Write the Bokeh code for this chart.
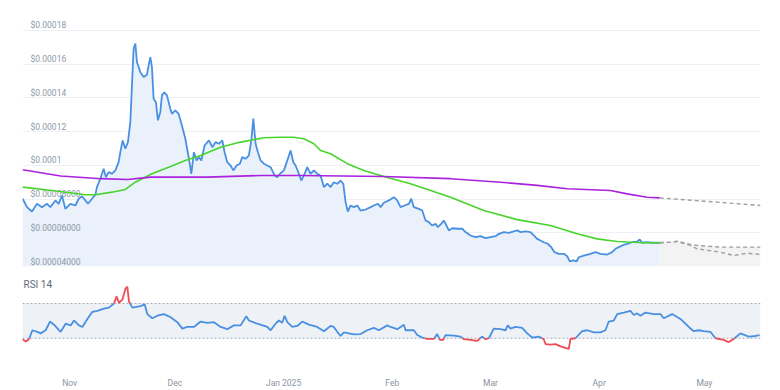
import numpy as np
import pandas as pd
from bokeh.plotting import figure
from bokeh.layouts import column
from bokeh.models import Range1d, FixedTicker, BoxAnnotation, Span
from bokeh.core.properties import value
from bokeh.embed import file_html
from bokeh.resources import INLINE

START = "2024-10-18"

# price (USD, in units of 1e-5), x = days since START
price_day = [0.6, 1.83, 3.25, 4.68, 6.10, 7.53, 8.50, 9.92, 10.86, 11.81,
             12.77, 14.2, 15.62, 16.57, 17.51, 18.48, 19.22, 20.36, 21.33, 21.78,
             22.75, 23.69, 24.35, 25.12, 26.06, 27.03, 27.97, 28.45, 29.11, 29.88,
             30.62, 31.30, 31.76, 32.24, 32.73, 33.18, 34.15, 35.09, 36.03, 36.52,
             37.00, 37.46, 37.94, 38.60, 39.17, 39.85, 40.31, 40.99, 41.74, 42.71,
             43.16, 44.13, 45.07, 46.01, 46.98, 48.01, 48.69, 49.43, 50.20, 50.86,
             51.54, 52.48, 53.71, 54.68, 55.62, 56.56, 57.53, 58.18, 58.95, 59.89,
             60.66, 61.60, 62.55, 63.23, 64.17, 65.11, 65.80, 66.37, 67.02, 67.68,
             68.45, 69.39, 70.36, 71.30, 72.44, 73.21, 73.95, 75.09, 76.06, 77.00,
             77.77, 78.42, 79.36, 80.05, 80.99, 81.76, 82.70, 83.64, 84.61, 85.55,
             86.49, 87.46, 88.40, 89.34, 90.31, 91.25, 92.02, 92.68, 93.33, 94.10,
             95.04, 96.01, 96.95, 98.38, 99.81, 100.75, 101.89, 102.65, 103.59, 105.02,
             106.44, 107.41, 108.36, 109.50, 110.72, 111.41, 112.15, 113.57, 114.54, 115.48,
             116.42, 117.39, 118.33, 118.98, 119.95, 120.69, 121.46, 122.12, 123.09, 124.51,
             125.94, 126.88, 128.31, 129.73, 131.16, 132.58, 134.01, 135.44, 136.38, 137.80,
             139.23, 140.65, 141.62, 142.56, 143.99, 145.41, 146.35, 147.32, 148.26, 149.20,
             150.34, 151.31, 152.25, 153.48, 154.90, 155.87, 156.61, 157.58, 158.52, 159.18,
             160.61, 162.52, 163.94, 165.37, 167.28, 168.70, 169.64, 170.58, 172.01, 173.15,
             174.40, 175.83, 176.57, 177.25, 178.68, 180.10, 181.53, 182.27]
price_e5 = [8.02, 7.52, 7.26, 7.72, 7.52, 7.72, 7.52, 7.92, 7.72, 8.21,
            7.42, 7.72, 7.62, 8.02, 8.17, 7.92, 7.72, 8.02, 8.26, 8.71,
            9.21, 9.80, 9.30, 9.60, 9.50, 9.70, 10.19, 10.78, 11.48, 10.99,
            11.38, 12.56, 14.74, 16.92, 17.22, 16.13, 15.53, 15.24, 15.38, 15.93,
            16.42, 15.83, 13.95, 13.75, 12.67, 13.16, 14.15, 14.34, 14.15, 13.36,
            13.06, 13.26, 13.06, 12.37, 11.58, 10.39, 9.50, 10.78, 10.29, 10.49,
            10.29, 11.18, 11.48, 11.08, 11.38, 11.28, 11.48, 10.78, 10.19, 9.99,
            9.70, 9.99, 10.10, 10.49, 10.39, 10.59, 11.48, 12.77, 11.28, 10.78,
            10.29, 10.10, 9.99, 9.89, 9.40, 9.30, 9.50, 9.70, 10.29, 10.88,
            10.19, 9.99, 9.50, 9.10, 9.50, 9.89, 9.50, 9.70, 9.50, 9.40,
            8.71, 8.91, 8.71, 9.00, 8.91, 9.10, 8.91, 7.82, 7.26, 7.62,
            7.52, 7.62, 7.32, 7.38, 7.52, 7.62, 7.72, 7.52, 7.78, 7.92,
            8.11, 7.92, 7.52, 7.62, 7.72, 8.02, 7.52, 7.42, 7.32, 6.73,
            6.63, 6.43, 6.53, 6.33, 6.53, 6.73, 6.43, 6.14, 6.27, 6.24,
            6.24, 6.04, 5.84, 5.74, 5.80, 5.68, 5.74, 5.80, 5.94, 6.04,
            6.00, 6.08, 6.14, 6.04, 6.08, 6.04, 5.84, 5.64, 5.54, 5.44,
            5.35, 5.15, 4.85, 4.75, 4.75, 4.61, 4.30, 4.36, 4.30, 4.55,
            4.65, 4.75, 4.85, 4.75, 4.71, 4.85, 5.05, 5.15, 5.29, 5.35,
            5.44, 5.48, 5.60, 5.41, 5.44, 5.41, 5.41, 5.41]

# 50-day moving average (green)
sma50_day = [0.6, 8.95, 18.48, 21.33, 26.06, 29.88, 32.73, 37.46, 42.22, 46.98,
             51.34, 57.04, 62.74, 69.39, 74.15, 77.94, 80.79, 83.64, 85.55, 88.40,
             93.16, 97.89, 103.59, 111.20, 116.91, 122.61, 132.10, 141.62, 151.11, 158.72,
             164.42, 170.13, 177.71, 182.27]
sma50_e5 = [8.71, 8.51, 8.26, 8.26, 8.41, 8.57, 9.00, 9.50, 9.89, 10.29,
            10.59, 11.08, 11.38, 11.64, 11.67, 11.67, 11.58, 11.28, 10.88, 10.69,
            10.10, 9.70, 9.34, 8.91, 8.51, 8.11, 7.32, 6.78, 6.43, 5.94,
            5.64, 5.48, 5.41, 5.41]

# 200-day moving average (purple)
sma200_day = [0.6, 11.43, 22.84, 30.53, 37.09, 53.25, 68.45, 79.85, 103.5, 122.6,
              136.86, 147.32, 155.87, 168.2, 172.98, 178.68, 182.27]
sma200_e5 = [9.74, 9.37, 9.21, 9.16, 9.30, 9.30, 9.40, 9.40, 9.34, 9.21,
             9.00, 8.81, 8.61, 8.51, 8.31, 8.11, 8.07]

# forecasts (dashed grey)
fc200_day = [182.27, 196.0, 211.0]
fc200_e5 = [8.07, 7.86, 7.62]
fc_hi_day = [182.27, 185.3, 187.3, 191.0, 192.9, 199.6, 205.3, 211.0]
fc_hi_e5 = [5.41, 5.44, 5.50, 5.31, 5.25, 5.15, 5.15, 5.15]
fc_lo_day = [182.27, 185.3, 187.3, 191.0, 192.9, 199.6, 203.4, 207.2, 211.0]
fc_lo_e5 = [5.41, 5.44, 5.48, 5.25, 5.05, 4.85, 4.65, 4.79, 4.71]

# RSI 14
rsi_day = [0.52, 1.46, 2.40, 3.37, 4.79, 5.73, 7.16, 8.38, 9.52, 11.43,
           12.86, 14.29, 15.23, 16.65, 17.62, 19.05, 20.47, 21.90, 23.78, 25.20,
           26.63, 27.40, 28.05, 29.02, 29.96, 30.45, 30.90, 31.87, 34.24, 35.38,
           36.15, 37.57, 39.00, 40.88, 42.79, 44.70, 46.13, 47.55, 49.43, 51.34,
           53.25, 55.13, 57.04, 58.95, 60.84, 62.75, 64.37, 65.11, 67.51, 70.36,
           71.30, 72.72, 73.66, 74.63, 75.29, 76.06, 77.48, 78.91, 80.33, 82.22,
           84.61, 86.49, 88.40, 89.34, 90.31, 91.25, 92.19, 95.04, 96.95, 98.86,
           100.75, 102.17, 104.56, 105.51, 107.42, 109.30, 109.78, 112.15, 113.12, 114.54,
           115.97, 117.85, 118.82, 119.56, 120.53, 121.18, 123.55, 125.46, 126.40, 128.31,
           130.22, 131.64, 132.58, 133.53, 134.95, 136.86, 138.29, 138.94, 139.71, 141.14,
           143.05, 144.47, 145.90, 147.78, 149.20, 149.69, 151.11, 152.54, 153.97, 156.33,
           156.82, 158.24, 160.15, 161.58, 163.46, 165.37, 166.79, 167.73, 169.16, 170.13,
           172.01, 173.92, 174.86, 175.83, 176.77, 178.20, 180.56, 182.47, 183.41, 185.81,
           188.17, 190.54, 191.96, 193.39, 194.81, 196.72, 198.15, 200.51, 201.94, 203.36,
           205.27, 207.64, 209.55, 210.77]
rsi = [28.9, 26.3, 28.9, 39.2, 37.4, 35.6, 39.2, 49.2, 45.6, 37.4,
       46.7, 44.8, 50.4, 44.8, 43.0, 52.2, 60.4, 61.5, 64.1, 65.2,
       70.0, 78.1, 70.7, 74.4, 87.4, 89.2, 72.6, 65.2, 67.0, 68.9,
       57.8, 53.0, 55.9, 57.8, 54.1, 48.5, 41.1, 43.0, 43.0, 49.2,
       47.8, 48.5, 43.0, 40.4, 44.8, 44.8, 55.2, 50.4, 46.7, 43.0,
       39.2, 46.7, 50.4, 47.8, 55.9, 48.5, 43.0, 44.1, 49.2, 45.6,
       43.0, 38.1, 44.1, 43.0, 37.4, 32.6, 36.7, 34.4, 34.8, 39.2,
       41.9, 39.2, 44.8, 43.0, 40.4, 45.6, 39.2, 39.2, 33.7, 30.8,
       29.2, 29.2, 34.8, 28.1, 28.1, 33.7, 33.0, 31.9, 28.9, 28.1,
       27.0, 31.9, 28.9, 30.0, 41.1, 40.4, 39.2, 44.8, 41.1, 43.0,
       41.9, 35.6, 30.8, 31.9, 28.9, 23.3, 22.6, 23.3, 20.7, 17.8,
       29.2, 30.0, 38.1, 39.2, 36.7, 36.7, 39.2, 49.2, 50.4, 57.8,
       59.6, 61.5, 56.7, 58.6, 55.9, 59.6, 57.8, 57.8, 53.0, 57.8,
       52.2, 43.0, 38.1, 39.2, 38.1, 37.4, 30.0, 28.1, 25.6, 29.2,
       35.6, 31.9, 32.6, 33.7]
rsi_levels = [30, 70]

month_ticks = ["2024-11-01", "2024-12-01", "2025-01-01", "2025-02-01",
               "2025-03-01", "2025-04-01", "2025-05-01"]
month_labels = ["Nov", "Dec", "Jan 2025", "Feb", "Mar", "Apr", "May"]
price_ticks_e5 = [4, 6, 8, 10, 12, 14, 16, 18]
price_tick_labels = ["$0.00004000", "$0.00006000", "$0.00008000", "$0.0001",
                     "$0.00012", "$0.00014", "$0.00016", "$0.00018"]

# ---------------------------------------------------------------
DAY_MS = 86400000.0
BASE_MS = pd.Timestamp(START).value / 1e6


def to_ms(days):
    return BASE_MS + np.asarray(days, dtype=float) * DAY_MS


def e5(v):
    return np.asarray(v, dtype=float) * 1e-5


X0, X1 = to_ms(0.55), to_ms(211.0)
Y0, Y1 = 4e-5, 1.9305e-4
FONT = value("Roboto")

p = figure(width=778, height=270, x_range=Range1d(X0, X1), y_range=Range1d(Y0, Y1),
           output_backend="svg", toolbar_location=None,
           x_axis_location=None, y_axis_location=None,
           min_border_left=22, min_border_right=18, min_border_top=8, min_border_bottom=4,
           outline_line_color=None, background_fill_color="white", border_fill_color="white")
p.xgrid.visible = False
p.ygrid.ticker = FixedTicker(ticks=list(e5(price_ticks_e5)))
p.ygrid.grid_line_color = "#eef0f3"
p.ygrid.grid_line_width = 1

px = to_ms(price_day)
py = e5(price_e5)
p.varea(x=px, y1=np.full(len(px), Y0), y2=py, fill_color="#eaf1fb")

fx = to_ms(fc_hi_day)
fy = e5(fc_hi_e5)
p.varea(x=fx, y1=np.full(len(fx), Y0), y2=fy, fill_color="#f3f3f4")

p.text(x=[X0] * len(price_ticks_e5), y=list(e5(price_ticks_e5)), text=price_tick_labels,
       x_offset=8, y_offset=-5, text_baseline="middle", text_align="left",
       text_font=FONT, text_font_size="8.5px", text_color="#8e98a7")

p.line(px, py, line_color="#4a90e2", line_width=1.8)
p.line(to_ms(sma50_day), e5(sma50_e5), line_color="#47d52c", line_width=1.6)
p.line(to_ms(sma200_day), e5(sma200_e5), line_color="#aa22dd", line_width=1.6)
for d, v in ((fc200_day, fc200_e5), (fc_hi_day, fc_hi_e5), (fc_lo_day, fc_lo_e5)):
    p.line(to_ms(d), e5(v), line_color="#a0a0a0", line_width=1.4, line_dash="4 3")

# ---------------- RSI panel ----------------
R0, R1 = 5.55, 103.33
r = figure(width=778, height=120, x_range=p.x_range, y_range=Range1d(R0, R1),
           output_backend="svg", toolbar_location=None,
           x_axis_location="below", y_axis_location=None,
           min_border_left=22, min_border_right=18, min_border_top=4, min_border_bottom=28,
           outline_line_color=None, background_fill_color="white", border_fill_color="white")
r.xgrid.visible = False
r.ygrid.visible = False
r.add_layout(BoxAnnotation(bottom=rsi_levels[0], top=rsi_levels[1], level="underlay",
                           fill_color="#eef1f5", fill_alpha=1, line_color=None))
for lv in rsi_levels:
    r.add_layout(Span(location=lv, dimension="width", line_color="#a3acb9",
                      line_width=1, line_dash="2 2", level="underlay"))

lo, hi = rsi_levels
xs_r = to_ms(rsi_day)
ys_r = np.asarray(rsi, dtype=float)
pieces = []
for i in range(len(xs_r) - 1):
    x0, y0, x1, y1 = xs_r[i], ys_r[i], xs_r[i + 1], ys_r[i + 1]
    pts = [(0.0, x0, y0)]
    for b in (lo, hi):
        if (y0 - b) * (y1 - b) < 0:
            t = (b - y0) / (y1 - y0)
            pts.append((t, x0 + t * (x1 - x0), float(b)))
    pts.append((1.0, x1, y1))
    pts.sort()
    for k in range(len(pts) - 1):
        _, xa, ya = pts[k]
        _, xb, yb = pts[k + 1]
        inside = lo - 1e-9 <= (ya + yb) / 2 <= hi + 1e-9
        if pieces and pieces[-1][0] == inside:
            pieces[-1][1].append(float(xb))
            pieces[-1][2].append(float(yb))
        else:
            pieces.append([inside, [float(xa), float(xb)], [float(ya), float(yb)]])

blue_x = [pc[1] for pc in pieces if pc[0]]
blue_y = [pc[2] for pc in pieces if pc[0]]
red_x = [pc[1] for pc in pieces if not pc[0]]
red_y = [pc[2] for pc in pieces if not pc[0]]
r.multi_line(blue_x, blue_y, line_color="#4a90e2", line_width=1.8)
r.multi_line(red_x, red_y, line_color="#ee4b55", line_width=1.8)

r.text(x=[X0], y=[R1], text=["RSI 14"], x_offset=1, y_offset=10,
       text_baseline="middle", text_align="left", text_font=FONT,
       text_font_size="10px", text_color="#5f6b7a")

tick_ms = [float(to_ms((pd.Timestamp(m) - pd.Timestamp(START)).days)) for m in month_ticks]
r.xaxis.ticker = FixedTicker(ticks=tick_ms)
r.xaxis.major_label_overrides = {t: lab for t, lab in zip(tick_ms, month_labels)}
r.xaxis.axis_line_color = None
r.xaxis.major_tick_line_color = None
r.xaxis.minor_tick_line_color = None
r.xaxis.major_label_standoff = 12
r.xaxis.major_label_text_font = "Roboto"
r.xaxis.major_label_text_font_size = "8.5px"
r.xaxis.major_label_text_color = "#8a94a3"

layout = column(p, r, spacing=0)
open("out.html", "w").write(file_html(layout, INLINE))
